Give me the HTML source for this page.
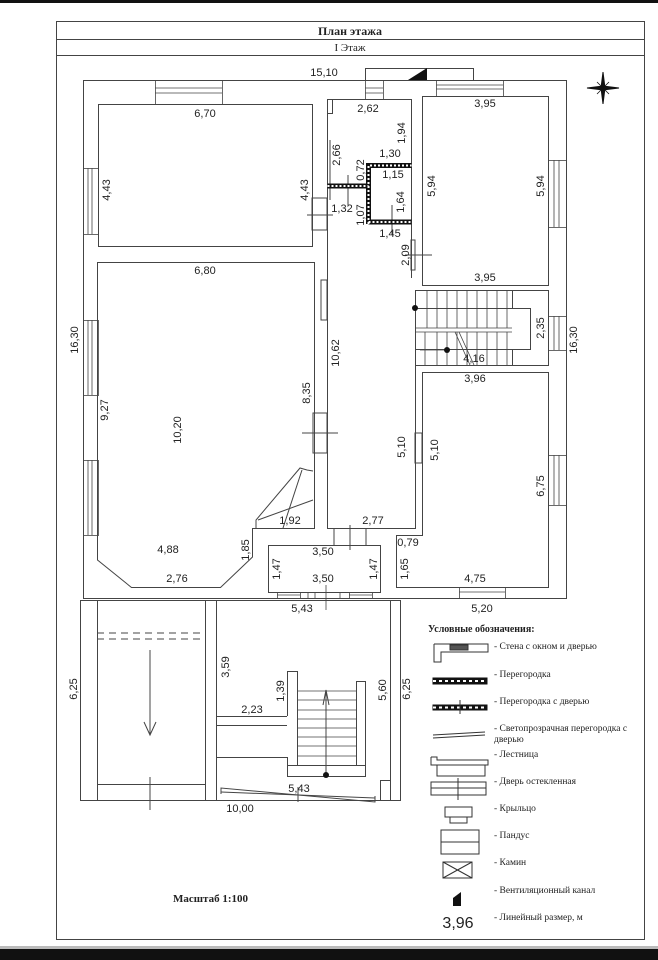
<!DOCTYPE html>
<html><head><meta charset="utf-8"><style>
html,body{margin:0;padding:0;background:#fff;}
svg{display:block}
text{font-family:"Liberation Sans",sans-serif;font-size:11px;fill:#222}
.s{font-family:"Liberation Serif",serif;font-size:9.5px;fill:#222}
</style></head><body>
<svg width="658" height="960" viewBox="0 0 658 960" xmlns="http://www.w3.org/2000/svg">
<rect x="0" y="0" width="658" height="3" fill="#111"/>
<rect x="0" y="946" width="658" height="3" fill="#bbb"/>
<rect x="0" y="949" width="658" height="11" fill="#111"/>
<g fill="none" stroke="#444" stroke-width="1">
<rect x="56.5" y="21.5" width="588" height="918"/>
<line x1="56" y1="39.5" x2="644" y2="39.5"/>
<line x1="56" y1="55.5" x2="644" y2="55.5"/>
<rect x="83.5" y="80.5" width="483" height="518"/>
<rect x="365.5" y="68.5" width="108" height="12"/>
<rect x="98.5" y="104.5" width="214" height="142"/>
<polyline points="327.5,246 327.5,99.5 411.5,99.5 411.5,278"/>
<rect x="327.5" y="99.5" width="5" height="14"/>
<rect x="422.5" y="96.5" width="126" height="189"/>
<polygon points="97.5,262.5 314.5,262.5 314.5,528.5 252.5,528.5 252.5,557 220.5,587.5 131.5,587.5 97.5,560"/>
<polyline points="327.5,246 327.5,528.5 415.5,528.5 415.5,290"/>
<rect x="321" y="280" width="6" height="40"/>
<rect x="313" y="413" width="14" height="40"/>
<line x1="302" y1="433" x2="338" y2="433"/>
<rect x="415.5" y="290.5" width="133" height="75"/>
<polyline points="415.5,308.5 512.5,308.5 512.5,290.5"/>
<polyline points="415.5,349.5 512.5,349.5 512.5,365.5"/>
<polyline points="512.5,308.5 530.5,308.5 530.5,349.5 512.5,349.5"/>
<g stroke-width="0.8">
<line x1="427" y1="290" x2="427" y2="328"/><line x1="437" y1="290" x2="437" y2="328"/><line x1="447" y1="290" x2="447" y2="328"/><line x1="457" y1="290" x2="457" y2="328"/><line x1="467" y1="290" x2="467" y2="328"/><line x1="477" y1="290" x2="477" y2="328"/><line x1="487" y1="290" x2="487" y2="328"/><line x1="497" y1="290" x2="497" y2="328"/><line x1="507" y1="290" x2="507" y2="328"/>
<line x1="415" y1="328" x2="512" y2="328"/>
<line x1="425" y1="332" x2="425" y2="365"/><line x1="437" y1="332" x2="437" y2="365"/><line x1="447" y1="332" x2="447" y2="365"/><line x1="457" y1="332" x2="457" y2="365"/><line x1="467" y1="332" x2="467" y2="365"/><line x1="477" y1="332" x2="477" y2="365"/><line x1="487" y1="332" x2="487" y2="365"/><line x1="497" y1="332" x2="497" y2="365"/><line x1="507" y1="332" x2="507" y2="365"/>
<line x1="415" y1="332" x2="512" y2="332"/>
<line x1="455" y1="332" x2="470" y2="365"/><line x1="459" y1="332" x2="474" y2="365"/>
<line x1="420" y1="350" x2="445" y2="350"/>
</g>
<polygon points="422.5,372.5 548.5,372.5 548.5,587.5 396.5,587.5 396.5,535.5 422.5,535.5"/>
<rect x="415" y="433" width="7" height="30"/>
<rect x="268.5" y="545.5" width="112" height="47"/>
<line x1="334" y1="528" x2="334" y2="545"/><line x1="366" y1="528" x2="366" y2="545"/>
<line x1="350" y1="525" x2="350" y2="550"/>
<polyline points="256,528 256,520 300,468 307,470 313,471"/>
<line x1="258" y1="520" x2="313" y2="500"/>
<line x1="283" y1="528" x2="302" y2="470"/>
<g stroke-width="0.8">
<rect x="155.5" y="80.5" width="67" height="24"/><line x1="155" y1="88" x2="222" y2="88"/><line x1="155" y1="93" x2="222" y2="93"/>
<rect x="436.5" y="80.5" width="67" height="16"/><line x1="436" y1="85" x2="503" y2="85"/><line x1="436" y1="89" x2="503" y2="89"/>
<rect x="365.5" y="80.5" width="18" height="19"/><line x1="365" y1="88" x2="383" y2="88"/><line x1="365" y1="93" x2="383" y2="93"/>
<rect x="83.5" y="168.5" width="15" height="66"/><line x1="88" y1="168" x2="88" y2="234"/><line x1="92" y1="168" x2="92" y2="234"/>
<rect x="83.5" y="320.5" width="15" height="75"/><line x1="88" y1="320" x2="88" y2="395"/><line x1="92" y1="320" x2="92" y2="395"/>
<rect x="83.5" y="460.5" width="15" height="75"/><line x1="88" y1="460" x2="88" y2="535"/><line x1="92" y1="460" x2="92" y2="535"/>
<rect x="548.5" y="160.5" width="18" height="67"/><line x1="554" y1="160" x2="554" y2="227"/><line x1="559" y1="160" x2="559" y2="227"/>
<rect x="548.5" y="316.5" width="18" height="34"/><line x1="554" y1="316" x2="554" y2="350"/><line x1="559" y1="316" x2="559" y2="350"/>
<rect x="548.5" y="455.5" width="18" height="50"/><line x1="554" y1="455" x2="554" y2="505"/><line x1="559" y1="455" x2="559" y2="505"/>
<rect x="277.5" y="592.5" width="23" height="6"/><line x1="277" y1="595" x2="300" y2="595"/>
<rect x="349.5" y="592.5" width="23" height="6"/><line x1="349" y1="595" x2="372" y2="595"/>
<line x1="308" y1="592" x2="308" y2="598"/><line x1="315" y1="592" x2="315" y2="598"/><line x1="340" y1="592" x2="340" y2="598"/>
<rect x="459.5" y="587.5" width="46" height="11"/><line x1="459" y1="592" x2="505" y2="592"/>
<line x1="326" y1="585" x2="326" y2="610"/>
</g>
<rect x="312" y="198" width="15" height="32"/>
<line x1="307" y1="215" x2="333" y2="215"/>
<line x1="348" y1="175" x2="348" y2="205"/>
<line x1="392" y1="205" x2="392" y2="235"/>
<rect x="411" y="240" width="4" height="30"/>
<line x1="405" y1="255" x2="432" y2="255"/>
<line x1="330" y1="140" x2="330" y2="200"/>
<g stroke="#111" stroke-width="5">
<line x1="327.5" y1="186" x2="368.5" y2="186"/>
<polyline points="368.5,224 368.5,165.5 411.5,165.5"/>
<line x1="368.5" y1="222" x2="411.5" y2="222"/>
</g>
<g stroke="#fff" stroke-width="2" stroke-dasharray="2,2">
<line x1="327.5" y1="186" x2="368.5" y2="186"/>
<polyline points="368.5,224 368.5,165.5 411.5,165.5"/>
<line x1="368.5" y1="222" x2="411.5" y2="222"/>
</g>
<rect x="80.5" y="600.5" width="320" height="200"/>
<line x1="97.5" y1="600" x2="97.5" y2="800"/>
<line x1="205.5" y1="600" x2="205.5" y2="800"/>
<line x1="216.5" y1="600" x2="216.5" y2="800"/>
<line x1="390.5" y1="600" x2="390.5" y2="780"/>
<line x1="97" y1="784.5" x2="205" y2="784.5"/>
<line x1="150" y1="777" x2="150" y2="810"/>
<line x1="97" y1="633" x2="205" y2="633" stroke-dasharray="7,5"/>
<line x1="97" y1="639" x2="205" y2="639" stroke-dasharray="7,5"/>
<line x1="150" y1="650" x2="150" y2="735"/>
<polyline points="144,722 150,735 156,722"/>
<rect x="380.5" y="780.5" width="10" height="20"/>
<line x1="216" y1="716.5" x2="287" y2="716.5"/>
<line x1="216" y1="725.5" x2="287" y2="725.5"/>
<line x1="216" y1="757.5" x2="287" y2="757.5"/>
<polyline points="287.5,716 287.5,671.5 297.5,671.5 297.5,765"/>
<polyline points="356.5,765 356.5,681.5 365.5,681.5 365.5,776.5 287.5,776.5 287.5,757"/>
<line x1="287" y1="765.5" x2="365" y2="765.5"/>
<g stroke-width="0.8"><line x1="297" y1="691" x2="356" y2="691"/><line x1="297" y1="700" x2="356" y2="700"/><line x1="297" y1="710" x2="356" y2="710"/><line x1="297" y1="719" x2="356" y2="719"/><line x1="297" y1="728" x2="356" y2="728"/><line x1="297" y1="737" x2="356" y2="737"/><line x1="297" y1="746" x2="356" y2="746"/><line x1="297" y1="756" x2="356" y2="756"/></g>
<line x1="326" y1="775" x2="326" y2="690"/><polyline points="323,705 326,690 329,705"/>
<polyline points="221,794 221,788 375,802 375,796"/>
<line x1="221" y1="792" x2="375" y2="798"/>
<line x1="298" y1="787" x2="298" y2="802"/>
</g>
<circle cx="415" cy="308" r="3" fill="#111"/>
<circle cx="447" cy="350" r="3" fill="#111"/>
<circle cx="326" cy="775" r="3" fill="#111"/>
<polygon points="408,80 427,68 427,80" fill="#111"/>
<g stroke="#111" fill="#111">
<polygon points="603,72 605,88 603,104 601,88"/>
<polygon points="587,88 603,86 619,88 603,90"/>
<line x1="597" y1="82" x2="609" y2="94" stroke-width="0.8"/><line x1="609" y1="82" x2="597" y2="94" stroke-width="0.8"/>
</g>
<text x="350" y="35" text-anchor="middle" class="s" style="font-size:12px;font-weight:bold">План этажа</text>
<text x="350" y="51" text-anchor="middle" class="s" style="font-size:11px">I Этаж</text>
<text x="324" y="76" text-anchor="middle">15,10</text>
<text x="205" y="117" text-anchor="middle">6,70</text>
<text x="368" y="112" text-anchor="middle">2,62</text>
<text x="485" y="107" text-anchor="middle">3,95</text>
<text x="390" y="157" text-anchor="middle">1,30</text>
<text x="393" y="178" text-anchor="middle">1,15</text>
<text x="390" y="237" text-anchor="middle">1,45</text>
<text x="342" y="212" text-anchor="middle">1,32</text>
<text x="485" y="281" text-anchor="middle">3,95</text>
<text x="205" y="274" text-anchor="middle">6,80</text>
<text x="475" y="382" text-anchor="middle">3,96</text>
<text x="474" y="362" text-anchor="middle">4,16</text>
<text x="290" y="524" text-anchor="middle">1,92</text>
<text x="373" y="524" text-anchor="middle">2,77</text>
<text x="168" y="553" text-anchor="middle">4,88</text>
<text x="177" y="582" text-anchor="middle">2,76</text>
<text x="323" y="555" text-anchor="middle">3,50</text>
<text x="323" y="582" text-anchor="middle">3,50</text>
<text x="408" y="546" text-anchor="middle">0,79</text>
<text x="475" y="582" text-anchor="middle">4,75</text>
<text x="302" y="612" text-anchor="middle">5,43</text>
<text x="482" y="612" text-anchor="middle">5,20</text>
<text x="252" y="713" text-anchor="middle">2,23</text>
<text x="299" y="792" text-anchor="middle">5,43</text>
<text x="240" y="812" text-anchor="middle">10,00</text>
<g>
<text transform="translate(110,190) rotate(-90)" text-anchor="middle">4,43</text>
<text transform="translate(308,190) rotate(-90)" text-anchor="middle">4,43</text>
<text transform="translate(340,155) rotate(-90)" text-anchor="middle">2,66</text>
<text transform="translate(405,133) rotate(-90)" text-anchor="middle">1,94</text>
<text transform="translate(364,170) rotate(-90)" text-anchor="middle">0,72</text>
<text transform="translate(364,215) rotate(-90)" text-anchor="middle">1,07</text>
<text transform="translate(404,202) rotate(-90)" text-anchor="middle">1,64</text>
<text transform="translate(435,186) rotate(-90)" text-anchor="middle">5,94</text>
<text transform="translate(544,186) rotate(-90)" text-anchor="middle">5,94</text>
<text transform="translate(409,255) rotate(-90)" text-anchor="middle">2,09</text>
<text transform="translate(544,328) rotate(-90)" text-anchor="middle">2,35</text>
<text transform="translate(78,340) rotate(-90)" text-anchor="middle">16,30</text>
<text transform="translate(577,340) rotate(-90)" text-anchor="middle">16,30</text>
<text transform="translate(339,353) rotate(-90)" text-anchor="middle">10,62</text>
<text transform="translate(310,393) rotate(-90)" text-anchor="middle">8,35</text>
<text transform="translate(108,410) rotate(-90)" text-anchor="middle">9,27</text>
<text transform="translate(181,430) rotate(-90)" text-anchor="middle">10,20</text>
<text transform="translate(405,447) rotate(-90)" text-anchor="middle">5,10</text>
<text transform="translate(438,450) rotate(-90)" text-anchor="middle">5,10</text>
<text transform="translate(544,486) rotate(-90)" text-anchor="middle">6,75</text>
<text transform="translate(249,550) rotate(-90)" text-anchor="middle">1,85</text>
<text transform="translate(280,569) rotate(-90)" text-anchor="middle">1,47</text>
<text transform="translate(377,569) rotate(-90)" text-anchor="middle">1,47</text>
<text transform="translate(408,569) rotate(-90)" text-anchor="middle">1,65</text>
<text transform="translate(77,689) rotate(-90)" text-anchor="middle">6,25</text>
<text transform="translate(229,667) rotate(-90)" text-anchor="middle">3,59</text>
<text transform="translate(284,691) rotate(-90)" text-anchor="middle">1,39</text>
<text transform="translate(386,690) rotate(-90)" text-anchor="middle">5,60</text>
<text transform="translate(410,689) rotate(-90)" text-anchor="middle">6,25</text>
</g>
<text x="428" y="632" class="s" style="font-size:10px;font-weight:bold">Условные обозначения:</text>
<g fill="none" stroke="#333" stroke-width="1">
<polyline points="434,644 434,662 441,662 441,652 488,652 488,644 434,644"/>
<rect x="450" y="645" width="18" height="5" fill="#555"/>
<rect x="433" y="678" width="54" height="6" fill="#111" stroke="#111"/>
<line x1="433" y1="681" x2="487" y2="681" stroke="#fff" stroke-width="2" stroke-dasharray="3,3"/>
<rect x="433" y="705" width="54" height="5" fill="#111" stroke="#111"/>
<line x1="433" y1="707.5" x2="487" y2="707.5" stroke="#fff" stroke-width="2" stroke-dasharray="3,3"/>
<line x1="460" y1="700" x2="460" y2="714"/>
<line x1="433" y1="735" x2="485" y2="732"/><line x1="433" y1="738" x2="485" y2="735"/>
<polyline points="431,757 431,765 488,765 488,760 437,760 437,757 431,757"/>
<rect x="437" y="765" width="48" height="11"/>
<rect x="431" y="782" width="55" height="13"/><line x1="431" y1="788" x2="486" y2="788"/><line x1="458" y1="778" x2="458" y2="800"/>
<rect x="445" y="807" width="27" height="10"/><rect x="450" y="817" width="17" height="6"/>
<rect x="441" y="830" width="38" height="24"/><line x1="441" y1="842" x2="479" y2="842"/>
<rect x="443" y="862" width="29" height="16"/><line x1="443" y1="862" x2="472" y2="878"/><line x1="472" y1="862" x2="443" y2="878"/>
</g>
<polygon points="453,898 461,892 461,906 453,906" fill="#111"/>
<text x="458" y="928" text-anchor="middle" style="font-size:16px">3,96</text>
<text x="494" y="649" class="s">- Стена с окном и дверью</text>
<text x="494" y="677" class="s">- Перегородка</text>
<text x="494" y="704" class="s">- Перегородка с дверью</text>
<text x="494" y="731" class="s">- Светопрозрачная перегородка с</text>
<text x="494" y="742" class="s">дверью</text>
<text x="494" y="757" class="s">- Лестница</text>
<text x="494" y="784" class="s">- Дверь остекленная</text>
<text x="494" y="811" class="s">- Крыльцо</text>
<text x="494" y="838" class="s">- Пандус</text>
<text x="494" y="865" class="s">- Камин</text>
<text x="494" y="893" class="s">- Вентиляционный канал</text>
<text x="494" y="920" class="s">- Линейный размер, м</text>
<text x="173" y="902" class="s" style="font-size:11px;font-weight:bold">Масштаб 1:100</text>
</svg>
</body></html>
